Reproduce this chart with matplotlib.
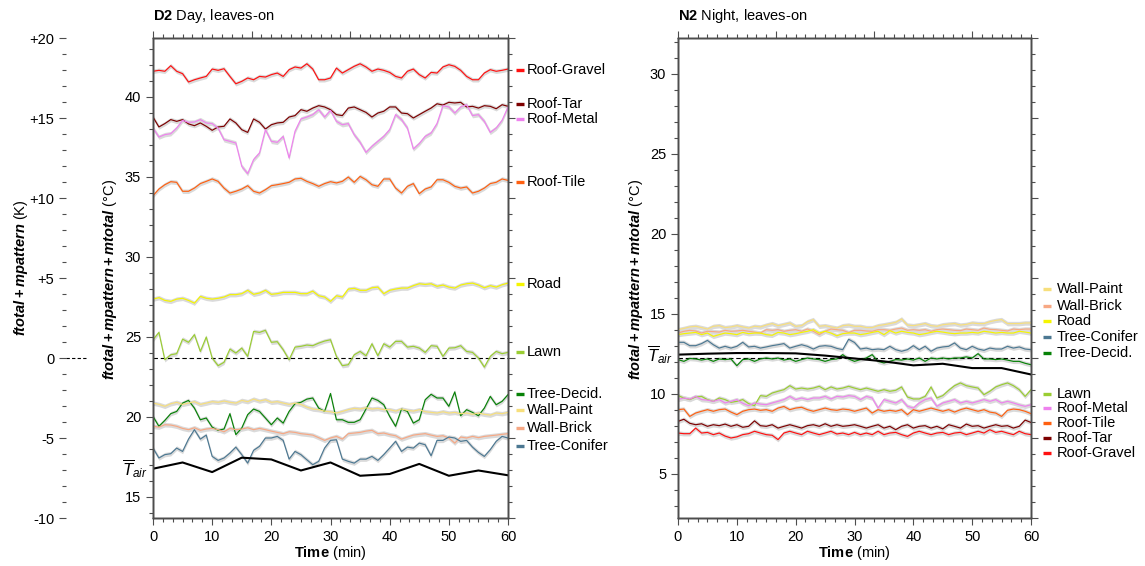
import numpy as np
import matplotlib
matplotlib.use('Agg')
import matplotlib.pyplot as plt
from matplotlib.ticker import MultipleLocator, FuncFormatter, NullFormatter

plt.rcParams['font.family'] = 'Liberation Sans'
plt.rcParams['mathtext.fontset'] = 'custom'
plt.rcParams['mathtext.it'] = 'Liberation Sans:italic:bold'
plt.rcParams['mathtext.rm'] = 'Liberation Sans:bold'
plt.rcParams['mathtext.bf'] = 'Liberation Sans:bold'
plt.rcParams['mathtext.sf'] = 'Liberation Sans:italic'
plt.rcParams['axes.unicode_minus'] = False

# time axis (min) for the surface series and the air temperature
minutes = np.arange(61)
air_minutes = np.arange(0, 61, 5)

# ---- D2: day, leaves-on (deg C, one value per minute) ----
d2_roof_gravel = [41.59, 41.65, 41.59, 41.94, 41.59, 41.44, 40.92, 41.06, 41.17, 41.27,
                  41.73, 41.65, 41.75, 41.27, 40.81, 40.96, 41.17, 41.06, 41.27, 41.23,
                  41.38, 41.48, 41.27, 41.69, 41.86, 41.79, 42.06, 41.73, 41.06, 41.06,
                  41.17, 41.79, 41.48, 41.69, 41.90, 42.06, 41.86, 41.59, 41.73, 41.65,
                  41.52, 41.27, 41.17, 41.59, 41.73, 41.38, 41.17, 41.52, 41.48, 41.86,
                  42.00, 41.90, 41.65, 41.27, 41.06, 41.06, 41.48, 41.69, 41.59, 41.65,
                  41.73]
d2_roof_tar = [38.73, 38.11, 38.32, 38.57, 38.46, 38.57, 38.30, 38.19, 38.36, 38.15,
               37.90, 38.11, 38.15, 38.61, 38.36, 37.94, 37.77, 38.61, 38.40, 37.98,
               38.25, 38.36, 38.40, 38.73, 38.82, 39.19, 39.09, 39.29, 39.44, 39.36,
               39.19, 38.88, 38.82, 39.29, 39.36, 39.19, 39.02, 38.73, 38.98, 39.09,
               39.36, 39.36, 38.98, 38.94, 38.67, 38.88, 39.09, 39.29, 39.56, 39.48,
               39.65, 39.61, 39.65, 39.36, 39.40, 39.29, 39.44, 39.40, 39.25, 39.50,
               39.40]
d2_roof_metal = [38.04, 37.48, 37.63, 37.69, 38.04, 38.52, 38.40, 38.42, 38.57, 38.36,
                 38.32, 38.04, 37.31, 37.21, 37.11, 35.65, 35.19, 36.07, 36.48, 37.94,
                 37.21, 37.15, 37.52, 36.17, 37.84, 38.61, 38.73, 38.88, 39.19, 38.73,
                 39.15, 38.46, 38.25, 38.32, 37.63, 37.15, 36.52, 36.90, 37.21, 37.52,
                 37.94, 38.88, 38.57, 38.04, 36.73, 37.07, 37.52, 37.73, 38.32, 39.44,
                 39.36, 38.98, 39.36, 39.50, 38.82, 38.88, 38.46, 37.77, 38.04, 38.52,
                 39.36]
d2_roof_tile = [33.81, 34.23, 34.50, 34.69, 34.65, 34.09, 34.09, 34.29, 34.57, 34.71,
                34.86, 34.71, 34.29, 33.98, 34.09, 34.23, 34.44, 34.09, 33.98, 34.19,
                34.44, 34.50, 34.57, 34.65, 34.86, 34.90, 34.71, 34.57, 34.40, 34.57,
                34.69, 34.61, 34.71, 34.98, 34.65, 35.02, 34.81, 34.50, 34.40, 34.86,
                34.86, 34.29, 33.98, 34.40, 34.57, 33.94, 34.23, 34.36, 34.81, 34.81,
                34.65, 34.40, 34.29, 34.36, 33.98, 34.09, 34.29, 34.57, 34.65, 34.86,
                34.77]
d2_road = [27.35, 27.44, 27.27, 27.21, 27.35, 27.40, 27.27, 27.10, 27.52, 27.40,
           27.35, 27.40, 27.48, 27.63, 27.63, 27.69, 27.90, 27.65, 27.73, 27.90,
           27.65, 27.69, 27.77, 27.77, 27.77, 27.69, 27.69, 27.85, 27.56, 27.48,
           27.21, 27.56, 27.48, 27.98, 28.02, 27.90, 27.90, 28.06, 28.10, 27.69,
           27.90, 27.98, 28.04, 28.04, 28.19, 28.31, 28.27, 28.31, 28.15, 28.23,
           28.10, 28.04, 28.23, 28.31, 28.35, 28.23, 28.06, 28.19, 28.10, 28.25,
           28.35]
d2_lawn = [24.81, 25.27, 23.56, 23.87, 23.94, 24.85, 24.65, 25.13, 24.08, 24.98,
           23.67, 23.19, 23.40, 24.23, 23.98, 24.29, 23.77, 25.33, 25.27, 25.40,
           24.65, 24.69, 24.19, 23.56, 24.35, 24.40, 24.48, 24.44, 24.60, 24.73,
           24.81, 23.77, 23.19, 23.25, 23.87, 24.08, 23.81, 24.56, 23.81, 24.56,
           24.35, 24.71, 24.71, 24.35, 24.40, 24.29, 24.02, 24.44, 24.40, 23.77,
           24.29, 24.31, 24.44, 24.08, 24.02, 23.67, 23.10, 23.77, 24.08, 23.94,
           24.02]
d2_tree_decid = [20.02, 19.40, 19.77, 20.19, 20.33, 20.85, 21.02, 20.54, 19.81, 19.92,
                 19.35, 19.15, 19.23, 20.19, 18.88, 19.29, 20.13, 20.48, 20.33, 19.92,
                 19.50, 19.92, 19.60, 20.33, 20.81, 20.90, 21.10, 21.17, 20.54, 20.33,
                 21.45, 19.81, 19.81, 19.65, 19.65, 19.81, 20.48, 21.17, 21.02, 20.75,
                 20.02, 19.40, 20.48, 20.33, 19.60, 19.81, 21.06, 21.40, 21.17, 21.17,
                 20.65, 21.55, 20.06, 20.44, 20.27, 20.06, 20.54, 21.27, 20.75, 20.96,
                 21.38]
d2_wall_paint = [20.85, 20.77, 20.65, 20.81, 20.90, 20.77, 20.85, 20.94, 20.77, 20.85,
                 20.94, 20.90, 20.98, 20.90, 20.85, 21.02, 20.94, 21.10, 20.98, 21.06,
                 20.90, 20.94, 20.85, 20.77, 20.85, 20.77, 20.60, 20.48, 20.44, 20.35,
                 20.31, 20.23, 20.33, 20.44, 20.52, 20.48, 20.56, 20.48, 20.52, 20.44,
                 20.44, 20.35, 20.48, 20.40, 20.35, 20.44, 20.31, 20.27, 20.23, 20.31,
                 20.23, 20.27, 20.19, 20.23, 20.15, 20.23, 20.15, 20.10, 20.23, 20.19,
                 20.27]
d2_wall_brick = [19.40, 19.35, 19.50, 19.48, 19.40, 19.27, 19.19, 19.31, 19.15, 19.23,
                 19.27, 19.19, 19.06, 19.27, 19.19, 19.23, 19.31, 19.19, 19.27, 19.19,
                 19.10, 19.02, 18.94, 19.06, 19.02, 18.94, 18.90, 18.85, 18.69, 18.52,
                 18.67, 18.77, 18.60, 18.94, 18.98, 19.02, 19.10, 19.15, 18.94, 18.98,
                 18.88, 18.81, 18.60, 18.73, 18.85, 18.90, 18.94, 18.85, 18.77, 18.81,
                 18.67, 18.35, 18.73, 18.67, 18.77, 18.69, 18.77, 18.81, 18.85, 18.90,
                 18.94]
d2_tree_conifer = [18.04, 17.42, 17.63, 17.69, 18.04, 17.83, 18.60, 19.19, 18.60, 18.85,
                   17.52, 17.27, 17.42, 17.73, 18.10, 17.63, 17.10, 17.90, 18.15, 18.67,
                   18.67, 18.77, 18.52, 17.35, 17.83, 17.63, 17.31, 17.00, 17.21, 18.04,
                   18.52, 18.56, 17.35, 17.21, 17.10, 17.35, 17.35, 17.52, 17.27, 17.63,
                   18.04, 18.46, 17.83, 18.10, 18.04, 18.35, 18.25, 17.56, 18.52, 18.52,
                   18.73, 18.67, 18.46, 18.52, 18.10, 17.77, 17.52, 17.94, 18.46, 18.77,
                   18.67]
d2_air = [16.75, 17.14, 16.54, 17.44, 17.33, 16.64, 17.14, 16.31, 16.42, 17.05, 16.31, 16.64, 16.34]
d2_ref = 23.67

# ---- N2: night, leaves-on ----
n2_wall_paint = [14.00, 14.08, 14.17, 14.21, 14.13, 14.04, 14.21, 14.25, 14.13, 14.17,
                 14.25, 14.17, 14.10, 14.21, 14.17, 14.29, 14.38, 14.25, 14.33, 14.42,
                 14.21, 14.25, 14.50, 14.63, 14.21, 14.25, 14.17, 14.10, 14.25, 14.29,
                 14.21, 14.21, 14.13, 14.13, 14.25, 14.31, 14.38, 14.46, 14.67, 14.29,
                 14.25, 14.31, 14.38, 14.25, 14.21, 14.31, 14.35, 14.38, 14.29, 14.33,
                 14.42, 14.38, 14.38, 14.50, 14.58, 14.63, 14.38, 14.38, 14.38, 14.42,
                 14.42]
n2_wall_brick = [13.79, 13.90, 13.96, 13.92, 13.79, 13.90, 13.88, 13.85, 13.96, 13.90,
                 13.92, 13.96, 13.90, 13.85, 13.79, 14.00, 13.96, 14.00, 13.90, 13.96,
                 14.00, 13.90, 14.04, 13.90, 13.69, 13.90, 14.04, 14.00, 13.96, 13.82,
                 13.96, 13.96, 13.92, 13.90, 14.00, 14.00, 13.96, 14.04, 14.10, 13.96,
                 14.00, 13.96, 14.00, 13.90, 14.00, 14.04, 14.00, 13.96, 13.94, 14.04,
                 14.00, 13.96, 14.10, 14.02, 14.00, 13.96, 13.92, 14.04, 14.00, 14.04,
                 14.04]
n2_road = [13.69, 13.75, 13.79, 13.83, 13.69, 13.79, 13.58, 13.69, 13.79, 13.75,
           13.69, 13.83, 13.75, 13.79, 13.79, 13.69, 13.65, 13.83, 13.79, 13.69,
           13.75, 13.83, 13.90, 14.00, 13.79, 13.90, 13.79, 13.62, 13.75, 13.79,
           13.79, 13.69, 13.75, 13.83, 13.90, 13.69, 13.94, 13.79, 13.90, 13.83,
           13.79, 13.69, 13.75, 13.83, 13.90, 13.85, 13.79, 13.75, 13.79, 13.79,
           13.83, 13.79, 13.90, 13.85, 13.79, 13.83, 13.79, 13.79, 13.90, 13.85,
           13.79]
n2_tree_conifer = [13.21, 13.21, 13.00, 13.00, 13.13, 13.33, 13.06, 12.85, 12.96, 12.85,
                   12.96, 13.21, 12.92, 12.96, 12.85, 12.92, 13.00, 13.06, 13.13, 12.85,
                   12.96, 13.06, 12.96, 12.79, 12.96, 13.00, 12.96, 12.83, 12.75, 13.40,
                   13.20, 12.79, 12.85, 12.75, 12.79, 12.75, 12.96, 12.75, 12.65, 12.75,
                   13.00, 12.75, 12.96, 12.65, 12.85, 12.92, 12.96, 13.17, 12.85, 12.75,
                   12.96, 12.79, 12.71, 12.85, 12.79, 12.79, 12.96, 12.85, 12.92, 12.79,
                   12.75]
n2_tree_decid = [12.13, 12.02, 12.20, 12.17, 12.10, 12.17, 12.02, 12.17, 12.13, 12.17,
                 11.75, 12.13, 12.17, 12.02, 12.17, 12.23, 12.17, 12.23, 12.10, 12.17,
                 12.02, 12.13, 12.23, 12.17, 12.13, 12.02, 12.13, 12.17, 12.44, 12.17,
                 12.02, 12.13, 12.23, 12.44, 12.02, 11.92, 12.02, 12.13, 12.10, 12.17,
                 12.10, 12.23, 12.02, 12.23, 12.17, 12.23, 12.17, 12.23, 12.23, 12.30,
                 12.23, 12.50, 12.17, 12.17, 12.13, 12.17, 12.10, 12.02, 12.02, 11.90,
                 11.81]
n2_lawn = [9.88, 9.73, 9.63, 9.79, 9.83, 9.63, 9.52, 9.73, 9.63, 9.46,
           9.52, 9.63, 9.38, 9.25, 9.88, 9.83, 10.04, 10.15, 10.25, 10.50,
           10.29, 10.35, 10.29, 10.35, 10.46, 10.25, 10.42, 10.29, 10.35, 10.46,
           10.35, 10.25, 10.35, 10.25, 10.15, 10.25, 10.15, 10.21, 10.42, 9.79,
           9.67, 9.67, 9.83, 10.42, 9.73, 9.88, 10.21, 10.50, 10.67, 10.50,
           10.42, 10.35, 9.94, 10.15, 10.42, 10.56, 10.67, 10.50, 10.25, 9.83,
           10.25]
n2_roof_metal = [9.63, 9.73, 9.66, 9.83, 9.63, 9.60, 9.52, 9.63, 9.42, 9.52,
                 9.63, 9.40, 9.25, 9.42, 9.35, 9.31, 9.42, 9.52, 9.63, 9.83,
                 9.63, 9.73, 9.63, 9.73, 9.73, 9.83, 9.67, 9.83, 9.79, 9.88,
                 9.83, 9.63, 9.83, 9.73, 9.10, 9.63, 9.52, 9.42, 9.63, 9.21,
                 9.10, 9.42, 9.63, 9.73, 9.21, 9.42, 9.52, 9.63, 9.42, 9.52,
                 9.42, 9.52, 9.63, 9.52, 9.63, 9.42, 9.52, 9.42, 9.30, 9.21,
                 9.31]
n2_roof_tile = [9.00, 9.04, 8.58, 8.79, 8.90, 9.00, 8.90, 9.00, 9.04, 8.85,
                8.69, 8.90, 9.00, 9.04, 8.96, 9.00, 8.90, 9.10, 9.20, 9.00,
                9.10, 9.15, 9.00, 8.90, 9.00, 9.10, 9.00, 8.96, 9.04, 9.00,
                8.90, 9.00, 9.10, 8.79, 9.00, 8.90, 8.96, 8.90, 9.00, 8.69,
                9.00, 8.90, 9.00, 9.10, 9.00, 8.90, 9.00, 8.85, 9.00, 9.10,
                9.00, 8.90, 9.00, 8.85, 8.79, 8.58, 8.96, 9.04, 9.00, 8.90,
                8.75]
n2_roof_tar = [8.27, 8.40, 8.15, 8.06, 8.12, 7.96, 8.06, 8.00, 8.10, 7.96,
               8.06, 7.90, 7.96, 8.30, 8.00, 7.96, 8.06, 7.85, 7.96, 8.06,
               7.96, 7.85, 8.00, 8.06, 7.96, 8.12, 7.96, 8.06, 7.96, 8.00,
               8.06, 7.96, 7.85, 7.96, 8.06, 7.85, 7.96, 7.75, 7.96, 8.06,
               7.85, 7.96, 8.00, 7.85, 7.96, 7.80, 8.06, 7.96, 7.85, 8.10,
               7.96, 8.00, 7.85, 7.96, 8.06, 7.96, 8.00, 7.85, 7.96, 8.35,
               8.20]
n2_roof_gravel = [7.54, 7.50, 7.50, 7.85, 7.54, 7.58, 7.44, 7.54, 7.35, 7.23,
                  7.30, 7.44, 7.50, 7.65, 7.54, 7.44, 7.40, 7.13, 7.54, 7.65,
                  7.54, 7.44, 7.65, 7.54, 7.44, 7.54, 7.65, 7.48, 7.54, 7.44,
                  7.58, 7.44, 7.54, 7.44, 7.65, 7.44, 7.54, 7.58, 7.44, 7.33,
                  7.54, 7.65, 7.54, 7.44, 7.54, 7.58, 7.44, 7.54, 7.58, 7.44,
                  7.54, 7.65, 7.54, 7.75, 7.58, 7.65, 7.54, 7.44, 7.65, 7.50,
                  7.44]
n2_air = [12.44, 12.50, 12.54, 12.54, 12.52, 12.38, 12.20, 12.02, 11.77, 11.87, 11.60, 11.60, 11.20]
n2_ref = 12.23

colors = {
    'Roof-Gravel': '#ff1010',
    'Roof-Tar': '#7d0000',
    'Roof-Metal': '#ee82ee',
    'Roof-Tile': '#ff6010',
    'Road': '#f5f500',
    'Lawn': '#9acd32',
    'Tree-Decid.': '#078207',
    'Wall-Paint': '#f7df7c',
    'Wall-Brick': '#f7a884',
    'Tree-Conifer': '#4c7892',
}

day = {
    'Roof-Gravel': d2_roof_gravel, 'Roof-Tar': d2_roof_tar, 'Roof-Metal': d2_roof_metal,
    'Roof-Tile': d2_roof_tile, 'Road': d2_road, 'Lawn': d2_lawn,
    'Tree-Decid.': d2_tree_decid, 'Wall-Paint': d2_wall_paint,
    'Wall-Brick': d2_wall_brick, 'Tree-Conifer': d2_tree_conifer,
}
night = {
    'Wall-Paint': n2_wall_paint, 'Wall-Brick': n2_wall_brick, 'Road': n2_road,
    'Tree-Conifer': n2_tree_conifer, 'Tree-Decid.': n2_tree_decid, 'Lawn': n2_lawn,
    'Roof-Metal': n2_roof_metal, 'Roof-Tile': n2_roof_tile, 'Roof-Tar': n2_roof_tar,
    'Roof-Gravel': n2_roof_gravel,
}

# where the key entries sit on the right of each panel (deg C)
day_keys = {'Roof-Gravel': 41.69, 'Roof-Tar': 39.56, 'Roof-Metal': 38.60, 'Roof-Tile': 34.64,
            'Road': 28.31, 'Lawn': 24.04, 'Tree-Decid.': 21.44, 'Wall-Paint': 20.44,
            'Wall-Brick': 19.29, 'Tree-Conifer': 18.16}
night_keys = {'Wall-Paint': 16.52, 'Wall-Brick': 15.46, 'Road': 14.52, 'Tree-Conifer': 13.52,
              'Tree-Decid.': 12.54, 'Lawn': 10.00, 'Roof-Metal': 9.10, 'Roof-Tile': 8.17,
              'Roof-Tar': 7.23, 'Roof-Gravel': 6.29}

W, H = 1145, 566
SPINE = '#4d4d4d'
FS = 10.5

fig = plt.figure(figsize=(W / 100, H / 100), dpi=100)


def px_axes(x0, x1, y0, y1):
    return fig.add_axes([x0 / W, 1 - y1 / H, (x1 - x0) / W, (y1 - y0) / H])


def style_ticks(a):
    a.tick_params(which='both', direction='out', color=SPINE, width=0.8, labelsize=FS)
    a.tick_params(which='major', length=5)
    a.tick_params(which='minor', length=3)
    for s in a.spines.values():
        s.set_color(SPINE)
        s.set_linewidth(1.0)


def panel(ax, series, air, ref, keys, key_x):
    for name, vals in series.items():
        v = np.asarray(vals)
        ax.fill_between(minutes, v - 0.14, v + 0.14, color='#dadada', lw=0, zorder=1)
    for name, vals in series.items():
        ax.plot(minutes, vals, color=colors[name], lw=0.85, zorder=3)
    ax.plot(air_minutes, air, color='black', lw=1.5, zorder=4)
    ax.axhline(ref, color='black', lw=0.8, ls=(0, (4, 2.5)), zorder=2)
    ax.set_xlim(0, 60)
    ax.set_ylim(ref - 10, ref + 20)
    ax.xaxis.set_major_locator(MultipleLocator(10))
    ax.xaxis.set_minor_locator(MultipleLocator(100 / 60))
    ax.yaxis.set_major_locator(MultipleLocator(5))
    ax.yaxis.set_minor_locator(MultipleLocator(1))
    style_ticks(ax)

    ax.text(-0.9, air[0], r'$\overline{\mathsf{T}}_{\mathsf{air}}$', ha='right', va='center',
            fontsize=12)

    # right side: offset from the reference level, in K
    axr = ax.twinx()
    axr.set_ylim(-10, 20)
    axr.yaxis.set_major_locator(MultipleLocator(5))
    axr.yaxis.set_minor_locator(MultipleLocator(1))
    axr.yaxis.set_major_formatter(NullFormatter())
    style_ticks(axr)

    # top: seconds
    axt = ax.twiny()
    axt.set_xlim(0, 3600)
    axt.xaxis.set_major_locator(MultipleLocator(1000))
    axt.xaxis.set_minor_locator(MultipleLocator(100))
    axt.xaxis.set_major_formatter(NullFormatter())
    style_ticks(axt)

    k0, k1, kt = key_x
    for name, y in keys.items():
        ax.plot([k0, k1], [y, y], color=colors[name], lw=2.4, solid_capstyle='butt',
                clip_on=False, zorder=5)
        ax.text(kt, y, name, va='center', ha='left', fontsize=FS, clip_on=False)


ax_day = px_axes(153, 508, 38, 518)
panel(ax_day, day, d2_air, d2_ref, day_keys, (61.35, 62.7, 63.2))

ax_night = px_axes(678, 1031, 38, 518)
panel(ax_night, night, n2_air, n2_ref, night_keys, (62.05, 63.4, 64.4))

# offset scale to the far left of the day panel
ax_k = px_axes(66, 88, 38, 518)
ax_k.set_ylim(-10, 20)
ax_k.set_xlim(0, 1)
ax_k.patch.set_visible(False)
for s in ax_k.spines.values():
    s.set_visible(False)
ax_k.set_xticks([])
ax_k.yaxis.set_major_locator(MultipleLocator(5))
ax_k.yaxis.set_minor_locator(MultipleLocator(1))
ax_k.yaxis.set_major_formatter(FuncFormatter(lambda v, p: '0' if v == 0 else f'{int(v):+d}'))
style_ticks(ax_k)
ax_k.plot([0, 1], [0, 0], color='black', lw=0.8, ls=(0, (3, 2)))

ylab_c = r'$ftotal+mpattern+mtotal$ (°C)'
fig.text(21 / W, 1 - 268 / H, r'$ftotal+mpattern$ (K)', rotation=90, ha='center', va='center',
         fontsize=FS)
fig.text(110 / W, 1 - 280 / H, ylab_c, rotation=90, ha='center', va='center', fontsize=FS)
fig.text(636 / W, 1 - 280 / H, ylab_c, rotation=90, ha='center', va='center', fontsize=FS)

for xc in (330, 854):
    fig.text(xc / W, 1 - 553 / H, r'$\mathbf{Time}$ (min)', ha='center', va='center', fontsize=FS)

fig.text(153 / W, 1 - 16 / H, r'$\mathbf{D2}$ Day, leaves-on', ha='left', va='center', fontsize=FS)
fig.text(678 / W, 1 - 16 / H, r'$\mathbf{N2}$ Night, leaves-on', ha='left', va='center', fontsize=FS)

fig.savefig('out.png', dpi=100)
